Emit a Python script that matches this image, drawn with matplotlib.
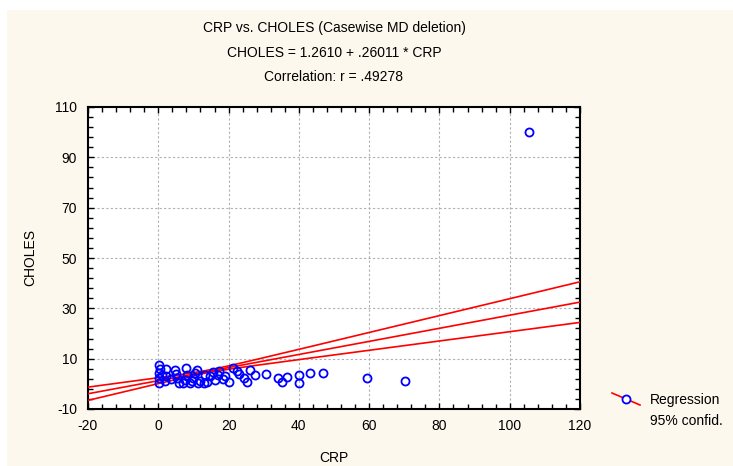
import numpy as np
import matplotlib
matplotlib.use("Agg")
import matplotlib.pyplot as plt
from matplotlib.lines import Line2D
from matplotlib.patches import Rectangle
from matplotlib.ticker import FixedLocator, MultipleLocator

plt.rcParams['font.family'] = ['Liberation Sans', 'DejaVu Sans']
plt.rcParams['axes.unicode_minus'] = False

crp = [0.3, 0.3, 0.3, 0.3, 0.5, 2.3, 2.3, 2.0, 4.8, 5.3, 5.0, 7.0, 8.0, 8.2, 7.5,
       9.0, 10.0, 11.0, 11.2, 10.5, 12.9, 13.4, 14.8, 16.2, 17.1, 17.4, 15.5, 19.0,
       20.0, 21.4, 23.1, 24.3, 25.2, 26.0, 27.6, 30.7, 34.2, 35.1, 36.6, 39.9, 40.1,
       43.2, 46.8, 59.5, 70.2, 105.4, 6.0, 12.0, 18.5, 22.5, 3.5, 9.5, 14.0, 1.0]
choles = [7.3, 4.4, 0.4, 2.4, 5.8, 6.0, 3.0, 1.2, 5.6, 2.4, 4.0, 0.4, 6.4, 3.6, 1.5,
          0.4, 2.3, 5.6, 0.3, 4.5, 0.3, 3.6, 3.0, 1.6, 3.6, 5.0, 4.6, 3.0,
          0.7, 6.3, 4.0, 2.3, 0.7, 5.6, 3.6, 3.9, 2.5, 0.9, 2.7, 3.6, 0.3,
          4.3, 4.3, 2.5, 1.2, 100.0, 0.5, 1.2, 2.0, 5.2, 1.8, 1.0, 0.6, 3.4]

intercept = 1.2610
slope = 0.26011
# confidence band: half-width at the centre and its growth
ci_center = 14.0
ci_min_halfwidth = 0.5
ci_growth = 0.076

title_lines = ["CRP vs. CHOLES (Casewise MD deletion)",
               "CHOLES = 1.2610 + .26011 * CRP",
               "Correlation: r = .49278"]
legend_labels = ["Regression", "95% confid."]
x_ticks = [-20, 0, 20, 40, 60, 80, 100, 120]
y_ticks = [-10, 10, 30, 50, 70, 90, 110]

x = np.array(crp)
y = np.array(choles)
xs = np.linspace(x_ticks[0], x_ticks[-1], 200)
fit = intercept + slope * xs
hw = np.sqrt(ci_min_halfwidth ** 2 + (ci_growth * (xs - ci_center)) ** 2)

W, H = 733, 466
fig = plt.figure(figsize=(W / 100, H / 100), dpi=100, facecolor='white')
fig.add_artist(Rectangle((7 / W, 0), 1, 1 - 10 / H, transform=fig.transFigure,
                         facecolor='#fdf8ed', edgecolor='none', zorder=-10))

ax = fig.add_axes([88 / W, 1 - 409 / H, (580 - 88) / W, (409 - 107) / H])
ax.set_facecolor('white')
red = '#ff0000'
ax.plot(xs, fit, color=red, lw=1.2, zorder=3)
ax.plot(xs, fit + hw, color=red, lw=1.2, zorder=3)
ax.plot(xs, fit - hw, color=red, lw=1.2, zorder=3)
ax.plot(x, y, linestyle='none', marker='o', markersize=5.8, markerfacecolor='none',
        markeredgecolor='#0000ff', markeredgewidth=1.3, zorder=4)

ax.set_xlim(x_ticks[0], x_ticks[-1])
ax.set_ylim(y_ticks[0], y_ticks[-1])
ax.xaxis.set_major_locator(FixedLocator(x_ticks))
ax.yaxis.set_major_locator(FixedLocator(y_ticks))
ax.xaxis.set_minor_locator(MultipleLocator(4))
ax.yaxis.set_minor_locator(FixedLocator(np.arange(-10, 111, 4)))
ax.tick_params(which='both', direction='in', top=True, right=True, color='black',
               labelsize=10)
ax.tick_params(which='major', length=4, width=1)
ax.tick_params(which='minor', length=3.5, width=1)
ax.tick_params(axis='x', which='major', pad=7)
ax.tick_params(axis='y', which='major', pad=8)
ax.grid(True, which='major', linestyle=(0, (2, 2)), color='#b0b0b0', lw=0.8)
for sp in ax.spines.values():
    sp.set_linewidth(1.5)
    sp.set_color('black')

ax.set_xlabel("CRP", fontsize=10, labelpad=13)
ax.set_ylabel("CHOLES", fontsize=10, labelpad=13)

for line, yy in zip(title_lines, [28, 53, 77]):
    fig.text(334 / W, 1 - yy / H, line, ha='center', va='center', fontsize=10)

fig.add_artist(Line2D([612 / W, 640 / W], [1 - 393 / H, 1 - 405 / H],
                      transform=fig.transFigure, color=red, lw=1.2))
fig.add_artist(Line2D([626 / W], [1 - 399 / H], transform=fig.transFigure,
                      marker='o', markersize=5.8, markerfacecolor='white',
                      markeredgecolor='#0000ff', markeredgewidth=1.3, linestyle='none'))
fig.text(650 / W, 1 - 400 / H, legend_labels[0], ha='left', va='center', fontsize=10)
fig.text(650 / W, 1 - 421 / H, legend_labels[1], ha='left', va='center', fontsize=10)

fig.savefig("out.png", dpi=100, facecolor=fig.get_facecolor())
